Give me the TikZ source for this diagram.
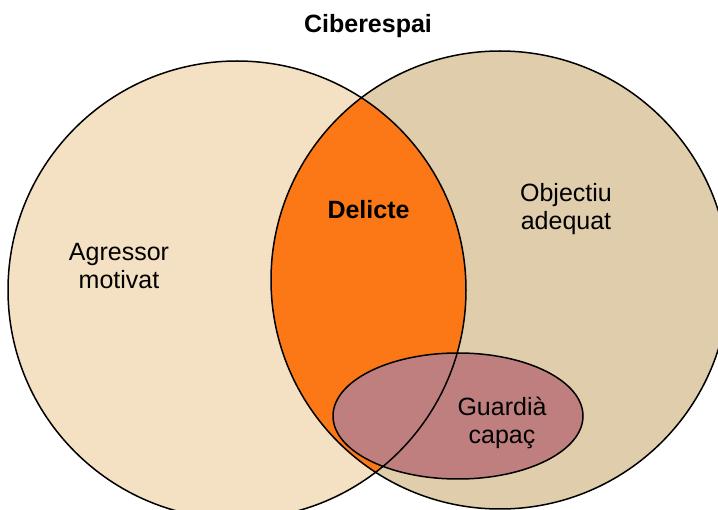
\documentclass[tikz,border=0pt]{standalone}
\usepackage{fontspec}
\setmainfont{Liberation Sans}
\definecolor{agrcol}{HTML}{F4E0C2}
\definecolor{objcol}{HTML}{DFCDAC}
\definecolor{delcol}{HTML}{FC7816}
\definecolor{guacol}{HTML}{BF7F7F}
\begin{document}
\begin{tikzpicture}[x=1pt,y=-1pt,
  lbl/.style={font=\fontsize{25}{28}\selectfont, align=center, inner sep=0pt},
  boldlbl/.style={font=\fontsize{25}{28}\selectfont\bfseries, align=center, inner sep=0pt},
  outline/.style={draw=black, line width=1.5pt}]
\useasboundingbox (0,0) rectangle (718,510);
\begin{scope}
  \clip (0,0) rectangle (718,510);
  \fill[agrcol] (237,290) circle[radius=229pt];
  \fill[objcol] (500,280) circle[radius=229pt];
  \begin{scope}
    \clip (237,290) circle[radius=229pt];
    \fill[delcol] (500,280) circle[radius=229pt];
  \end{scope}
  \fill[guacol] (458,416) ellipse[x radius=125pt, y radius=63pt];
  \draw[outline] (237,290) circle[radius=229pt];
  \draw[outline] (500,280) circle[radius=229pt];
  \draw[outline] (458,416) ellipse[x radius=125pt, y radius=63pt];
\end{scope}
\node[boldlbl, anchor=base] (title) at (368,33) {Ciberespai};
\node[boldlbl, anchor=base] (delicte) at (368.5,219) {Delicte};
\node[lbl, anchor=north] (agressor) at (119,243) {Agressor\\motivat};
\node[lbl, anchor=north] (objectiu) at (566,183) {Objectiu\\adequat};
\node[lbl, anchor=north] (guardia) at (502,397) {Guardià\\capaç};
\end{tikzpicture}
\end{document}
